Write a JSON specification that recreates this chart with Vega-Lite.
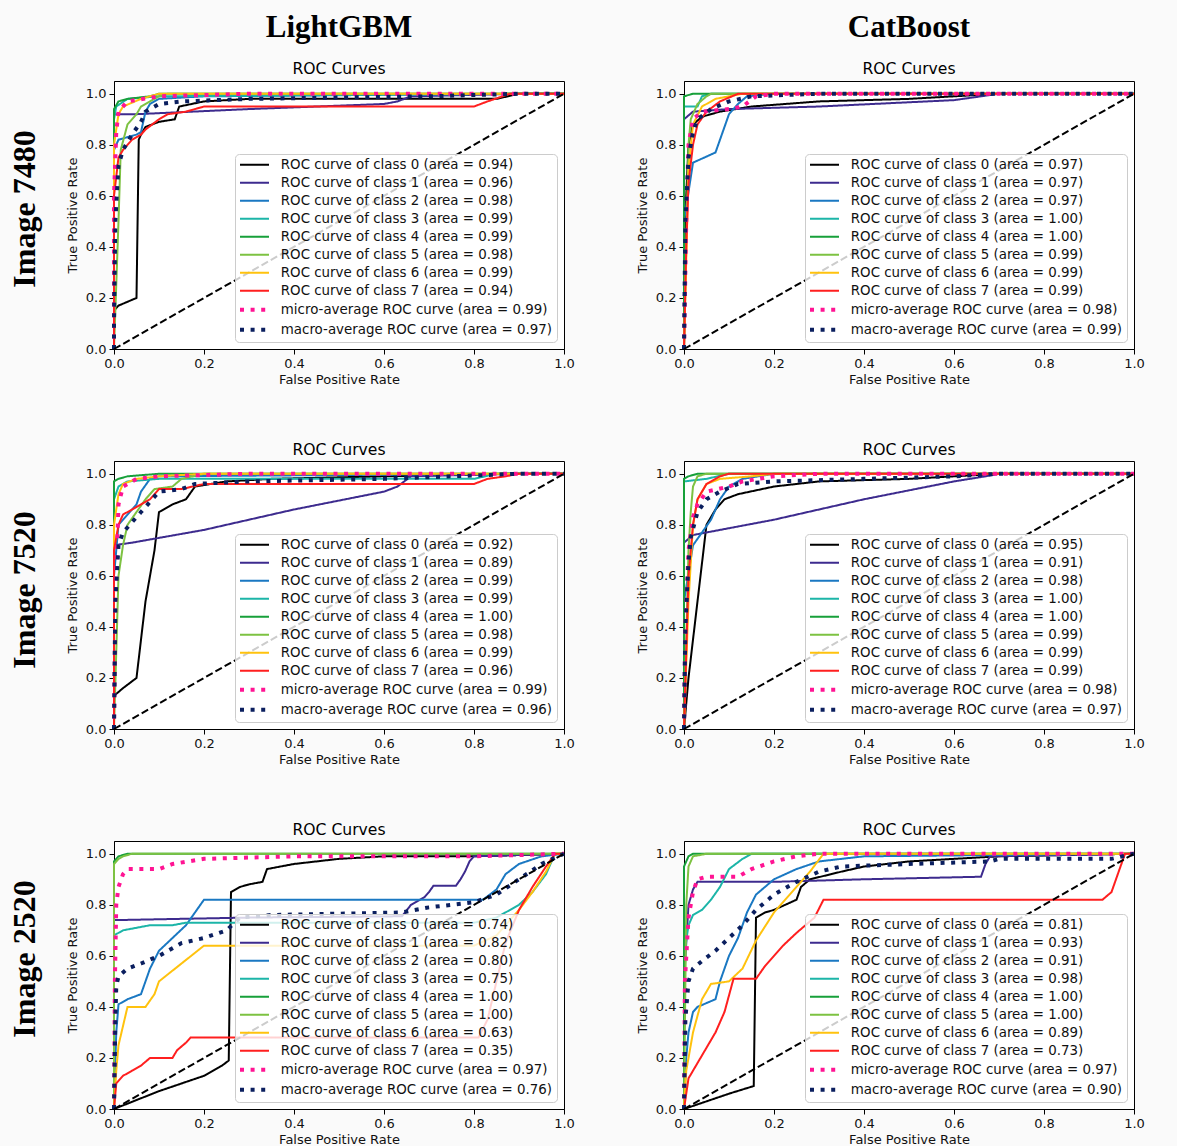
{
"$schema": "https://vega.github.io/schema/vega-lite/v6.json",
"background": "#fafafa",
"padding": {"left": 5, "top": 11, "right": 34, "bottom": 1},
"config": {
 "view": {"stroke": "black", "strokeWidth": 1, "fill": "white"},
 "axis": {"grid": false, "labelFlush": false, "domainColor": "black", "domainWidth": 1, "tickColor": "black", "tickSize": 5, "tickWidth": 1, "labelFont": "DejaVu Sans", "labelFontSize": 13, "labelColor": "#111", "labelPadding": 3, "titleFont": "DejaVu Sans", "titleFontSize": 13, "titleFontWeight": "normal", "titleColor": "#111"},
 "axisX": {"titlePadding": 3},
 "axisY": {"titlePadding": 6},
 "legend": {"orient": "bottom-right", "offset": 7, "labelFont": "DejaVu Sans", "labelFontSize": 13.4, "labelColor": "#111", "labelLimit": 500, "symbolSize": 64, "symbolStrokeWidth": 2, "labelOffset": 19.6, "symbolOffset": 8.8, "padding": 4, "rowPadding": 3, "fillColor": "rgba(255,255,255,0.8)", "strokeColor": "#cccccc", "cornerRadius": 4},
 "title": {"font": "DejaVu Sans", "fontSize": 15.6, "fontWeight": "normal", "color": "black", "offset": 2, "anchor": "middle"}
},
"datasets": {
 "lab1": [{"c":0,"s":"ROC curve of class 0 (area = 0.94)"},{"c":1,"s":"ROC curve of class 1 (area = 0.96)"},{"c":2,"s":"ROC curve of class 2 (area = 0.98)"},{"c":3,"s":"ROC curve of class 3 (area = 0.99)"},{"c":4,"s":"ROC curve of class 4 (area = 0.99)"},{"c":5,"s":"ROC curve of class 5 (area = 0.98)"},{"c":6,"s":"ROC curve of class 6 (area = 0.99)"},{"c":7,"s":"ROC curve of class 7 (area = 0.94)"},{"c":8,"s":"micro-average ROC curve (area = 0.99)"},{"c":9,"s":"macro-average ROC curve (area = 0.97)"}],
 "lab2": [{"c":0,"s":"ROC curve of class 0 (area = 0.97)"},{"c":1,"s":"ROC curve of class 1 (area = 0.97)"},{"c":2,"s":"ROC curve of class 2 (area = 0.97)"},{"c":3,"s":"ROC curve of class 3 (area = 1.00)"},{"c":4,"s":"ROC curve of class 4 (area = 1.00)"},{"c":5,"s":"ROC curve of class 5 (area = 0.99)"},{"c":6,"s":"ROC curve of class 6 (area = 0.99)"},{"c":7,"s":"ROC curve of class 7 (area = 0.99)"},{"c":8,"s":"micro-average ROC curve (area = 0.98)"},{"c":9,"s":"macro-average ROC curve (area = 0.99)"}],
 "lab3": [{"c":0,"s":"ROC curve of class 0 (area = 0.92)"},{"c":1,"s":"ROC curve of class 1 (area = 0.89)"},{"c":2,"s":"ROC curve of class 2 (area = 0.99)"},{"c":3,"s":"ROC curve of class 3 (area = 0.99)"},{"c":4,"s":"ROC curve of class 4 (area = 1.00)"},{"c":5,"s":"ROC curve of class 5 (area = 0.98)"},{"c":6,"s":"ROC curve of class 6 (area = 0.99)"},{"c":7,"s":"ROC curve of class 7 (area = 0.96)"},{"c":8,"s":"micro-average ROC curve (area = 0.99)"},{"c":9,"s":"macro-average ROC curve (area = 0.96)"}],
 "lab4": [{"c":0,"s":"ROC curve of class 0 (area = 0.95)"},{"c":1,"s":"ROC curve of class 1 (area = 0.91)"},{"c":2,"s":"ROC curve of class 2 (area = 0.98)"},{"c":3,"s":"ROC curve of class 3 (area = 1.00)"},{"c":4,"s":"ROC curve of class 4 (area = 1.00)"},{"c":5,"s":"ROC curve of class 5 (area = 0.99)"},{"c":6,"s":"ROC curve of class 6 (area = 0.99)"},{"c":7,"s":"ROC curve of class 7 (area = 0.99)"},{"c":8,"s":"micro-average ROC curve (area = 0.98)"},{"c":9,"s":"macro-average ROC curve (area = 0.97)"}],
 "lab5": [{"c":0,"s":"ROC curve of class 0 (area = 0.74)"},{"c":1,"s":"ROC curve of class 1 (area = 0.82)"},{"c":2,"s":"ROC curve of class 2 (area = 0.80)"},{"c":3,"s":"ROC curve of class 3 (area = 0.75)"},{"c":4,"s":"ROC curve of class 4 (area = 1.00)"},{"c":5,"s":"ROC curve of class 5 (area = 1.00)"},{"c":6,"s":"ROC curve of class 6 (area = 0.63)"},{"c":7,"s":"ROC curve of class 7 (area = 0.35)"},{"c":8,"s":"micro-average ROC curve (area = 0.97)"},{"c":9,"s":"macro-average ROC curve (area = 0.76)"}],
 "lab6": [{"c":0,"s":"ROC curve of class 0 (area = 0.81)"},{"c":1,"s":"ROC curve of class 1 (area = 0.93)"},{"c":2,"s":"ROC curve of class 2 (area = 0.91)"},{"c":3,"s":"ROC curve of class 3 (area = 0.98)"},{"c":4,"s":"ROC curve of class 4 (area = 1.00)"},{"c":5,"s":"ROC curve of class 5 (area = 1.00)"},{"c":6,"s":"ROC curve of class 6 (area = 0.89)"},{"c":7,"s":"ROC curve of class 7 (area = 0.73)"},{"c":8,"s":"micro-average ROC curve (area = 0.97)"},{"c":9,"s":"macro-average ROC curve (area = 0.90)"}],
 "p1": [
  {"c":0,"x":0,"y":0},{"c":0,"x":0,"y":0.15},{"c":0,"x":0.01,"y":0.17},{"c":0,"x":0.05,"y":0.2},{"c":0,"x":0.055,"y":0.82},{"c":0,"x":0.06,"y":0.84},{"c":0,"x":0.07,"y":0.87},{"c":0,"x":0.1,"y":0.89},{"c":0,"x":0.135,"y":0.9},{"c":0,"x":0.145,"y":0.95},{"c":0,"x":0.2,"y":0.97},{"c":0,"x":0.3,"y":0.98},{"c":0,"x":0.85,"y":0.98},{"c":0,"x":0.9,"y":1},{"c":0,"x":1,"y":1},
  {"c":1,"x":0,"y":0},{"c":1,"x":0,"y":0.92},{"c":1,"x":0.05,"y":0.92},{"c":1,"x":0.3,"y":0.94},{"c":1,"x":0.6,"y":0.96},{"c":1,"x":0.63,"y":0.97},{"c":1,"x":0.66,"y":0.99},{"c":1,"x":0.9,"y":1},{"c":1,"x":1,"y":1},
  {"c":2,"x":0,"y":0},{"c":2,"x":0,"y":0.78},{"c":2,"x":0.01,"y":0.82},{"c":2,"x":0.05,"y":0.84},{"c":2,"x":0.06,"y":0.85},{"c":2,"x":0.07,"y":0.93},{"c":2,"x":0.08,"y":0.96},{"c":2,"x":0.1,"y":0.98},{"c":2,"x":0.2,"y":0.99},{"c":2,"x":0.9,"y":1},{"c":2,"x":1,"y":1},
  {"c":3,"x":0,"y":0},{"c":3,"x":0,"y":0.9},{"c":3,"x":0.005,"y":0.95},{"c":3,"x":0.03,"y":0.98},{"c":3,"x":0.1,"y":0.99},{"c":3,"x":0.9,"y":1},{"c":3,"x":1,"y":1},
  {"c":4,"x":0,"y":0},{"c":4,"x":0,"y":0.94},{"c":4,"x":0.01,"y":0.97},{"c":4,"x":0.03,"y":0.98},{"c":4,"x":0.08,"y":0.99},{"c":4,"x":0.1,"y":1},{"c":4,"x":1,"y":1},
  {"c":5,"x":0,"y":0},{"c":5,"x":0.01,"y":0.5},{"c":5,"x":0.015,"y":0.78},{"c":5,"x":0.03,"y":0.88},{"c":5,"x":0.05,"y":0.92},{"c":5,"x":0.06,"y":0.95},{"c":5,"x":0.08,"y":0.97},{"c":5,"x":0.1,"y":0.99},{"c":5,"x":0.12,"y":1},{"c":5,"x":1,"y":1},
  {"c":6,"x":0,"y":0},{"c":6,"x":0,"y":0.8},{"c":6,"x":0.01,"y":0.92},{"c":6,"x":0.02,"y":0.95},{"c":6,"x":0.06,"y":0.98},{"c":6,"x":0.1,"y":1},{"c":6,"x":1,"y":1},
  {"c":7,"x":0,"y":0},{"c":7,"x":0,"y":0.6},{"c":7,"x":0.01,"y":0.75},{"c":7,"x":0.02,"y":0.78},{"c":7,"x":0.04,"y":0.82},{"c":7,"x":0.06,"y":0.84},{"c":7,"x":0.07,"y":0.86},{"c":7,"x":0.1,"y":0.9},{"c":7,"x":0.12,"y":0.92},{"c":7,"x":0.16,"y":0.93},{"c":7,"x":0.18,"y":0.94},{"c":7,"x":0.2,"y":0.95},{"c":7,"x":0.8,"y":0.95},{"c":7,"x":0.83,"y":0.97},{"c":7,"x":0.88,"y":1},{"c":7,"x":1,"y":1},
  {"c":8,"x":0,"y":0},{"c":8,"x":0,"y":0.6},{"c":8,"x":0.005,"y":0.85},{"c":8,"x":0.01,"y":0.93},{"c":8,"x":0.03,"y":0.97},{"c":8,"x":0.1,"y":0.99},{"c":8,"x":0.3,"y":1},{"c":8,"x":1,"y":1},
  {"c":9,"x":0,"y":0},{"c":9,"x":0,"y":0.1},{"c":9,"x":0.003,"y":0.5},{"c":9,"x":0.01,"y":0.72},{"c":9,"x":0.02,"y":0.78},{"c":9,"x":0.04,"y":0.84},{"c":9,"x":0.06,"y":0.89},{"c":9,"x":0.07,"y":0.93},{"c":9,"x":0.1,"y":0.96},{"c":9,"x":0.15,"y":0.97},{"c":9,"x":0.3,"y":0.98},{"c":9,"x":0.7,"y":0.99},{"c":9,"x":0.9,"y":1},{"c":9,"x":1,"y":1}
 ],
 "p2": [
  {"c":0,"x":0,"y":0},{"c":0,"x":0.005,"y":0.6},{"c":0,"x":0.01,"y":0.8},{"c":0,"x":0.02,"y":0.88},{"c":0,"x":0.04,"y":0.91},{"c":0,"x":0.08,"y":0.93},{"c":0,"x":0.15,"y":0.95},{"c":0,"x":0.3,"y":0.97},{"c":0,"x":0.5,"y":0.98},{"c":0,"x":0.7,"y":1},{"c":0,"x":1,"y":1},
  {"c":1,"x":0,"y":0},{"c":1,"x":0,"y":0.9},{"c":1,"x":0.02,"y":0.93},{"c":1,"x":0.1,"y":0.94},{"c":1,"x":0.3,"y":0.95},{"c":1,"x":0.6,"y":0.975},{"c":1,"x":0.66,"y":0.99},{"c":1,"x":0.7,"y":1},{"c":1,"x":1,"y":1},
  {"c":2,"x":0,"y":0},{"c":2,"x":0,"y":0.5},{"c":2,"x":0.02,"y":0.73},{"c":2,"x":0.07,"y":0.77},{"c":2,"x":0.09,"y":0.87},{"c":2,"x":0.1,"y":0.92},{"c":2,"x":0.12,"y":0.96},{"c":2,"x":0.14,"y":0.99},{"c":2,"x":0.2,"y":1},{"c":2,"x":1,"y":1},
  {"c":3,"x":0,"y":0},{"c":3,"x":0,"y":0.95},{"c":3,"x":0.03,"y":0.95},{"c":3,"x":0.04,"y":0.99},{"c":3,"x":0.06,"y":1},{"c":3,"x":1,"y":1},
  {"c":4,"x":0,"y":0},{"c":4,"x":0,"y":0.99},{"c":4,"x":0.02,"y":1},{"c":4,"x":1,"y":1},
  {"c":5,"x":0,"y":0},{"c":5,"x":0.01,"y":0.8},{"c":5,"x":0.015,"y":0.9},{"c":5,"x":0.03,"y":0.96},{"c":5,"x":0.05,"y":0.99},{"c":5,"x":0.06,"y":1},{"c":5,"x":1,"y":1},
  {"c":6,"x":0,"y":0},{"c":6,"x":0.01,"y":0.7},{"c":6,"x":0.02,"y":0.88},{"c":6,"x":0.04,"y":0.95},{"c":6,"x":0.07,"y":0.98},{"c":6,"x":0.1,"y":0.99},{"c":6,"x":0.13,"y":1},{"c":6,"x":1,"y":1},
  {"c":7,"x":0,"y":0},{"c":7,"x":0.005,"y":0.4},{"c":7,"x":0.01,"y":0.65},{"c":7,"x":0.02,"y":0.8},{"c":7,"x":0.03,"y":0.88},{"c":7,"x":0.05,"y":0.93},{"c":7,"x":0.08,"y":0.97},{"c":7,"x":0.12,"y":1},{"c":7,"x":1,"y":1},
  {"c":8,"x":0,"y":0},{"c":8,"x":0.005,"y":0.5},{"c":8,"x":0.01,"y":0.8},{"c":8,"x":0.02,"y":0.9},{"c":8,"x":0.04,"y":0.93},{"c":8,"x":0.1,"y":0.94},{"c":8,"x":0.13,"y":0.95},{"c":8,"x":0.16,"y":0.99},{"c":8,"x":0.2,"y":1},{"c":8,"x":1,"y":1},
  {"c":9,"x":0,"y":0},{"c":9,"x":0.003,"y":0.5},{"c":9,"x":0.01,"y":0.75},{"c":9,"x":0.02,"y":0.85},{"c":9,"x":0.03,"y":0.9},{"c":9,"x":0.06,"y":0.94},{"c":9,"x":0.1,"y":0.97},{"c":9,"x":0.15,"y":0.99},{"c":9,"x":0.3,"y":1},{"c":9,"x":1,"y":1}
 ],
 "p3": [
  {"c":0,"x":0,"y":0},{"c":0,"x":0,"y":0.13},{"c":0,"x":0.02,"y":0.16},{"c":0,"x":0.05,"y":0.2},{"c":0,"x":0.07,"y":0.5},{"c":0,"x":0.09,"y":0.7},{"c":0,"x":0.1,"y":0.85},{"c":0,"x":0.13,"y":0.88},{"c":0,"x":0.16,"y":0.9},{"c":0,"x":0.18,"y":0.95},{"c":0,"x":0.25,"y":0.97},{"c":0,"x":0.35,"y":0.98},{"c":0,"x":0.6,"y":0.99},{"c":0,"x":0.87,"y":1},{"c":0,"x":1,"y":1},
  {"c":1,"x":0,"y":0},{"c":1,"x":0,"y":0.72},{"c":1,"x":0.04,"y":0.73},{"c":1,"x":0.2,"y":0.78},{"c":1,"x":0.4,"y":0.86},{"c":1,"x":0.6,"y":0.93},{"c":1,"x":0.63,"y":0.95},{"c":1,"x":0.66,"y":0.99},{"c":1,"x":0.9,"y":1},{"c":1,"x":1,"y":1},
  {"c":2,"x":0,"y":0},{"c":2,"x":0,"y":0.6},{"c":2,"x":0.01,"y":0.8},{"c":2,"x":0.03,"y":0.84},{"c":2,"x":0.05,"y":0.88},{"c":2,"x":0.06,"y":0.93},{"c":2,"x":0.08,"y":0.98},{"c":2,"x":0.1,"y":0.99},{"c":2,"x":0.9,"y":1},{"c":2,"x":1,"y":1},
  {"c":3,"x":0,"y":0},{"c":3,"x":0,"y":0.9},{"c":3,"x":0.01,"y":0.95},{"c":3,"x":0.03,"y":0.97},{"c":3,"x":0.1,"y":0.98},{"c":3,"x":0.8,"y":0.98},{"c":3,"x":0.85,"y":1},{"c":3,"x":1,"y":1},
  {"c":4,"x":0,"y":0},{"c":4,"x":0,"y":0.97},{"c":4,"x":0.01,"y":0.98},{"c":4,"x":0.03,"y":0.99},{"c":4,"x":0.1,"y":1},{"c":4,"x":1,"y":1},
  {"c":5,"x":0,"y":0},{"c":5,"x":0.01,"y":0.6},{"c":5,"x":0.02,"y":0.72},{"c":5,"x":0.03,"y":0.8},{"c":5,"x":0.05,"y":0.85},{"c":5,"x":0.07,"y":0.9},{"c":5,"x":0.09,"y":0.94},{"c":5,"x":0.13,"y":0.95},{"c":5,"x":0.15,"y":0.98},{"c":5,"x":0.2,"y":1},{"c":5,"x":1,"y":1},
  {"c":6,"x":0,"y":0},{"c":6,"x":0,"y":0.8},{"c":6,"x":0.01,"y":0.92},{"c":6,"x":0.02,"y":0.96},{"c":6,"x":0.05,"y":0.98},{"c":6,"x":0.1,"y":0.99},{"c":6,"x":0.2,"y":1},{"c":6,"x":1,"y":1},
  {"c":7,"x":0,"y":0},{"c":7,"x":0,"y":0.7},{"c":7,"x":0.01,"y":0.8},{"c":7,"x":0.02,"y":0.84},{"c":7,"x":0.05,"y":0.87},{"c":7,"x":0.08,"y":0.9},{"c":7,"x":0.1,"y":0.94},{"c":7,"x":0.15,"y":0.94},{"c":7,"x":0.2,"y":0.96},{"c":7,"x":0.8,"y":0.96},{"c":7,"x":0.83,"y":0.98},{"c":7,"x":0.87,"y":0.99},{"c":7,"x":0.9,"y":1},{"c":7,"x":1,"y":1},
  {"c":8,"x":0,"y":0},{"c":8,"x":0.003,"y":0.5},{"c":8,"x":0.01,"y":0.88},{"c":8,"x":0.02,"y":0.95},{"c":8,"x":0.05,"y":0.98},{"c":8,"x":0.1,"y":0.99},{"c":8,"x":0.3,"y":1},{"c":8,"x":1,"y":1},
  {"c":9,"x":0,"y":0},{"c":9,"x":0.003,"y":0.5},{"c":9,"x":0.01,"y":0.72},{"c":9,"x":0.02,"y":0.77},{"c":9,"x":0.04,"y":0.81},{"c":9,"x":0.06,"y":0.85},{"c":9,"x":0.08,"y":0.89},{"c":9,"x":0.1,"y":0.93},{"c":9,"x":0.15,"y":0.94},{"c":9,"x":0.18,"y":0.96},{"c":9,"x":0.3,"y":0.97},{"c":9,"x":0.6,"y":0.98},{"c":9,"x":0.9,"y":1},{"c":9,"x":1,"y":1}
 ],
 "p4": [
  {"c":0,"x":0,"y":0},{"c":0,"x":0.01,"y":0.2},{"c":0,"x":0.03,"y":0.5},{"c":0,"x":0.05,"y":0.8},{"c":0,"x":0.07,"y":0.86},{"c":0,"x":0.09,"y":0.9},{"c":0,"x":0.12,"y":0.92},{"c":0,"x":0.2,"y":0.95},{"c":0,"x":0.3,"y":0.97},{"c":0,"x":0.5,"y":0.98},{"c":0,"x":0.7,"y":1},{"c":0,"x":1,"y":1},
  {"c":1,"x":0,"y":0},{"c":1,"x":0,"y":0.73},{"c":1,"x":0.02,"y":0.76},{"c":1,"x":0.2,"y":0.82},{"c":1,"x":0.4,"y":0.9},{"c":1,"x":0.6,"y":0.97},{"c":1,"x":0.67,"y":0.99},{"c":1,"x":0.7,"y":1},{"c":1,"x":1,"y":1},
  {"c":2,"x":0,"y":0},{"c":2,"x":0,"y":0.5},{"c":2,"x":0.02,"y":0.72},{"c":2,"x":0.04,"y":0.77},{"c":2,"x":0.06,"y":0.82},{"c":2,"x":0.08,"y":0.9},{"c":2,"x":0.1,"y":0.95},{"c":2,"x":0.13,"y":0.98},{"c":2,"x":0.2,"y":1},{"c":2,"x":1,"y":1},
  {"c":3,"x":0,"y":0},{"c":3,"x":0,"y":0.97},{"c":3,"x":0.05,"y":0.98},{"c":3,"x":0.1,"y":1},{"c":3,"x":1,"y":1},
  {"c":4,"x":0,"y":0},{"c":4,"x":0,"y":0.98},{"c":4,"x":0.01,"y":0.99},{"c":4,"x":0.03,"y":1},{"c":4,"x":1,"y":1},
  {"c":5,"x":0,"y":0},{"c":5,"x":0.01,"y":0.7},{"c":5,"x":0.015,"y":0.85},{"c":5,"x":0.02,"y":0.95},{"c":5,"x":0.03,"y":0.99},{"c":5,"x":0.05,"y":1},{"c":5,"x":1,"y":1},
  {"c":6,"x":0,"y":0},{"c":6,"x":0.01,"y":0.5},{"c":6,"x":0.02,"y":0.8},{"c":6,"x":0.03,"y":0.9},{"c":6,"x":0.05,"y":0.96},{"c":6,"x":0.08,"y":0.98},{"c":6,"x":0.15,"y":0.99},{"c":6,"x":0.2,"y":1},{"c":6,"x":1,"y":1},
  {"c":7,"x":0,"y":0},{"c":7,"x":0.005,"y":0.3},{"c":7,"x":0.01,"y":0.6},{"c":7,"x":0.02,"y":0.8},{"c":7,"x":0.03,"y":0.9},{"c":7,"x":0.05,"y":0.96},{"c":7,"x":0.08,"y":0.99},{"c":7,"x":0.1,"y":1},{"c":7,"x":1,"y":1},
  {"c":8,"x":0,"y":0},{"c":8,"x":0.003,"y":0.4},{"c":8,"x":0.01,"y":0.7},{"c":8,"x":0.02,"y":0.83},{"c":8,"x":0.03,"y":0.88},{"c":8,"x":0.05,"y":0.93},{"c":8,"x":0.1,"y":0.95},{"c":8,"x":0.13,"y":0.97},{"c":8,"x":0.2,"y":0.99},{"c":8,"x":0.3,"y":1},{"c":8,"x":1,"y":1},
  {"c":9,"x":0,"y":0},{"c":9,"x":0.003,"y":0.4},{"c":9,"x":0.01,"y":0.65},{"c":9,"x":0.015,"y":0.75},{"c":9,"x":0.03,"y":0.85},{"c":9,"x":0.05,"y":0.9},{"c":9,"x":0.08,"y":0.93},{"c":9,"x":0.12,"y":0.96},{"c":9,"x":0.2,"y":0.97},{"c":9,"x":0.4,"y":0.98},{"c":9,"x":0.6,"y":0.99},{"c":9,"x":0.7,"y":1},{"c":9,"x":1,"y":1}
 ],
 "p5": [
  {"c":0,"x":0,"y":0},{"c":0,"x":0.1,"y":0.07},{"c":0,"x":0.15,"y":0.1},{"c":0,"x":0.2,"y":0.13},{"c":0,"x":0.24,"y":0.17},{"c":0,"x":0.255,"y":0.19},{"c":0,"x":0.26,"y":0.85},{"c":0,"x":0.28,"y":0.87},{"c":0,"x":0.3,"y":0.88},{"c":0,"x":0.33,"y":0.89},{"c":0,"x":0.34,"y":0.94},{"c":0,"x":0.4,"y":0.96},{"c":0,"x":0.5,"y":0.98},{"c":0,"x":0.6,"y":0.99},{"c":0,"x":0.8,"y":0.99},{"c":0,"x":1,"y":1},
  {"c":1,"x":0,"y":0},{"c":1,"x":0,"y":0.74},{"c":1,"x":0.3,"y":0.75},{"c":1,"x":0.64,"y":0.755},{"c":1,"x":0.66,"y":0.8},{"c":1,"x":0.69,"y":0.83},{"c":1,"x":0.7,"y":0.85},{"c":1,"x":0.71,"y":0.875},{"c":1,"x":0.76,"y":0.875},{"c":1,"x":0.77,"y":0.9},{"c":1,"x":0.78,"y":0.93},{"c":1,"x":0.79,"y":0.97},{"c":1,"x":0.8,"y":0.99},{"c":1,"x":1,"y":1},
  {"c":2,"x":0,"y":0},{"c":2,"x":0.005,"y":0.3},{"c":2,"x":0.01,"y":0.41},{"c":2,"x":0.03,"y":0.43},{"c":2,"x":0.06,"y":0.45},{"c":2,"x":0.08,"y":0.55},{"c":2,"x":0.1,"y":0.62},{"c":2,"x":0.13,"y":0.67},{"c":2,"x":0.16,"y":0.72},{"c":2,"x":0.2,"y":0.82},{"c":2,"x":0.82,"y":0.82},{"c":2,"x":0.85,"y":0.86},{"c":2,"x":0.87,"y":0.92},{"c":2,"x":0.9,"y":0.96},{"c":2,"x":0.95,"y":0.99},{"c":2,"x":1,"y":1},
  {"c":3,"x":0,"y":0},{"c":3,"x":0,"y":0.68},{"c":3,"x":0.02,"y":0.7},{"c":3,"x":0.08,"y":0.72},{"c":3,"x":0.13,"y":0.72},{"c":3,"x":0.16,"y":0.73},{"c":3,"x":0.8,"y":0.73},{"c":3,"x":0.85,"y":0.75},{"c":3,"x":0.9,"y":0.8},{"c":3,"x":0.93,"y":0.85},{"c":3,"x":0.96,"y":0.92},{"c":3,"x":0.98,"y":1},{"c":3,"x":1,"y":1},
  {"c":4,"x":0,"y":0},{"c":4,"x":0,"y":0.97},{"c":4,"x":0.01,"y":0.99},{"c":4,"x":0.03,"y":1},{"c":4,"x":1,"y":1},
  {"c":5,"x":0,"y":0},{"c":5,"x":0,"y":0.96},{"c":5,"x":0.01,"y":0.98},{"c":5,"x":0.02,"y":0.99},{"c":5,"x":0.04,"y":1},{"c":5,"x":1,"y":1},
  {"c":6,"x":0,"y":0},{"c":6,"x":0.005,"y":0.15},{"c":6,"x":0.01,"y":0.25},{"c":6,"x":0.03,"y":0.4},{"c":6,"x":0.07,"y":0.4},{"c":6,"x":0.09,"y":0.45},{"c":6,"x":0.1,"y":0.5},{"c":6,"x":0.15,"y":0.57},{"c":6,"x":0.2,"y":0.64},{"c":6,"x":0.8,"y":0.64},{"c":6,"x":0.85,"y":0.68},{"c":6,"x":0.9,"y":0.78},{"c":6,"x":0.93,"y":0.85},{"c":6,"x":0.96,"y":0.93},{"c":6,"x":0.98,"y":1},{"c":6,"x":1,"y":1},
  {"c":7,"x":0,"y":0},{"c":7,"x":0.005,"y":0.1},{"c":7,"x":0.02,"y":0.13},{"c":7,"x":0.04,"y":0.15},{"c":7,"x":0.06,"y":0.17},{"c":7,"x":0.08,"y":0.2},{"c":7,"x":0.13,"y":0.2},{"c":7,"x":0.14,"y":0.23},{"c":7,"x":0.16,"y":0.26},{"c":7,"x":0.17,"y":0.28},{"c":7,"x":0.81,"y":0.28},{"c":7,"x":0.83,"y":0.35},{"c":7,"x":0.85,"y":0.5},{"c":7,"x":0.87,"y":0.65},{"c":7,"x":0.9,"y":0.78},{"c":7,"x":0.93,"y":0.87},{"c":7,"x":0.96,"y":0.95},{"c":7,"x":0.98,"y":1},{"c":7,"x":1,"y":1},
  {"c":8,"x":0,"y":0},{"c":8,"x":0.002,"y":0.5},{"c":8,"x":0.005,"y":0.8},{"c":8,"x":0.01,"y":0.87},{"c":8,"x":0.02,"y":0.92},{"c":8,"x":0.03,"y":0.94},{"c":8,"x":0.1,"y":0.94},{"c":8,"x":0.13,"y":0.96},{"c":8,"x":0.2,"y":0.98},{"c":8,"x":0.4,"y":0.99},{"c":8,"x":0.8,"y":0.99},{"c":8,"x":1,"y":1},
  {"c":9,"x":0,"y":0},{"c":9,"x":0.003,"y":0.35},{"c":9,"x":0.005,"y":0.48},{"c":9,"x":0.01,"y":0.52},{"c":9,"x":0.03,"y":0.55},{"c":9,"x":0.06,"y":0.57},{"c":9,"x":0.1,"y":0.6},{"c":9,"x":0.15,"y":0.65},{"c":9,"x":0.2,"y":0.67},{"c":9,"x":0.25,"y":0.7},{"c":9,"x":0.28,"y":0.75},{"c":9,"x":0.35,"y":0.76},{"c":9,"x":0.64,"y":0.77},{"c":9,"x":0.7,"y":0.79},{"c":9,"x":0.75,"y":0.8},{"c":9,"x":0.8,"y":0.81},{"c":9,"x":0.85,"y":0.84},{"c":9,"x":0.9,"y":0.9},{"c":9,"x":0.95,"y":0.96},{"c":9,"x":1,"y":1}
 ],
 "p6": [
  {"c":0,"x":0,"y":0},{"c":0,"x":0.05,"y":0.03},{"c":0,"x":0.1,"y":0.06},{"c":0,"x":0.155,"y":0.09},{"c":0,"x":0.16,"y":0.75},{"c":0,"x":0.18,"y":0.77},{"c":0,"x":0.2,"y":0.78},{"c":0,"x":0.25,"y":0.82},{"c":0,"x":0.26,"y":0.87},{"c":0,"x":0.28,"y":0.9},{"c":0,"x":0.35,"y":0.93},{"c":0,"x":0.4,"y":0.95},{"c":0,"x":0.5,"y":0.97},{"c":0,"x":0.6,"y":0.98},{"c":0,"x":0.7,"y":0.99},{"c":0,"x":1,"y":1},
  {"c":1,"x":0,"y":0},{"c":1,"x":0,"y":0.5},{"c":1,"x":0.01,"y":0.8},{"c":1,"x":0.02,"y":0.86},{"c":1,"x":0.03,"y":0.89},{"c":1,"x":0.2,"y":0.89},{"c":1,"x":0.4,"y":0.9},{"c":1,"x":0.66,"y":0.91},{"c":1,"x":0.67,"y":0.96},{"c":1,"x":0.68,"y":0.99},{"c":1,"x":1,"y":1},
  {"c":2,"x":0,"y":0},{"c":2,"x":0.005,"y":0.2},{"c":2,"x":0.01,"y":0.3},{"c":2,"x":0.02,"y":0.38},{"c":2,"x":0.03,"y":0.4},{"c":2,"x":0.07,"y":0.43},{"c":2,"x":0.08,"y":0.5},{"c":2,"x":0.1,"y":0.6},{"c":2,"x":0.12,"y":0.67},{"c":2,"x":0.14,"y":0.77},{"c":2,"x":0.16,"y":0.84},{"c":2,"x":0.2,"y":0.9},{"c":2,"x":0.25,"y":0.94},{"c":2,"x":0.3,"y":0.97},{"c":2,"x":0.4,"y":0.99},{"c":2,"x":1,"y":1},
  {"c":3,"x":0,"y":0},{"c":3,"x":0,"y":0.6},{"c":3,"x":0.01,"y":0.72},{"c":3,"x":0.02,"y":0.76},{"c":3,"x":0.04,"y":0.78},{"c":3,"x":0.06,"y":0.82},{"c":3,"x":0.08,"y":0.87},{"c":3,"x":0.1,"y":0.94},{"c":3,"x":0.13,"y":0.98},{"c":3,"x":0.15,"y":1},{"c":3,"x":1,"y":1},
  {"c":4,"x":0,"y":0},{"c":4,"x":0,"y":0.95},{"c":4,"x":0.01,"y":0.99},{"c":4,"x":0.02,"y":1},{"c":4,"x":1,"y":1},
  {"c":5,"x":0,"y":0},{"c":5,"x":0.005,"y":0.8},{"c":5,"x":0.01,"y":0.95},{"c":5,"x":0.02,"y":0.99},{"c":5,"x":0.05,"y":1},{"c":5,"x":1,"y":1},
  {"c":6,"x":0,"y":0},{"c":6,"x":0.005,"y":0.15},{"c":6,"x":0.02,"y":0.3},{"c":6,"x":0.04,"y":0.43},{"c":6,"x":0.06,"y":0.49},{"c":6,"x":0.1,"y":0.5},{"c":6,"x":0.13,"y":0.55},{"c":6,"x":0.16,"y":0.66},{"c":6,"x":0.2,"y":0.77},{"c":6,"x":0.25,"y":0.87},{"c":6,"x":0.28,"y":0.93},{"c":6,"x":0.31,"y":1},{"c":6,"x":1,"y":1},
  {"c":7,"x":0,"y":0},{"c":7,"x":0.01,"y":0.12},{"c":7,"x":0.03,"y":0.18},{"c":7,"x":0.05,"y":0.24},{"c":7,"x":0.07,"y":0.3},{"c":7,"x":0.09,"y":0.38},{"c":7,"x":0.11,"y":0.51},{"c":7,"x":0.16,"y":0.51},{"c":7,"x":0.18,"y":0.56},{"c":7,"x":0.2,"y":0.6},{"c":7,"x":0.22,"y":0.64},{"c":7,"x":0.25,"y":0.69},{"c":7,"x":0.29,"y":0.75},{"c":7,"x":0.31,"y":0.82},{"c":7,"x":0.93,"y":0.82},{"c":7,"x":0.95,"y":0.85},{"c":7,"x":0.97,"y":0.95},{"c":7,"x":0.98,"y":1},{"c":7,"x":1,"y":1},
  {"c":8,"x":0,"y":0},{"c":8,"x":0.002,"y":0.5},{"c":8,"x":0.01,"y":0.75},{"c":8,"x":0.02,"y":0.85},{"c":8,"x":0.03,"y":0.9},{"c":8,"x":0.05,"y":0.91},{"c":8,"x":0.12,"y":0.91},{"c":8,"x":0.15,"y":0.94},{"c":8,"x":0.2,"y":0.97},{"c":8,"x":0.25,"y":0.99},{"c":8,"x":0.3,"y":1},{"c":8,"x":1,"y":1},
  {"c":9,"x":0,"y":0},{"c":9,"x":0.003,"y":0.35},{"c":9,"x":0.01,"y":0.5},{"c":9,"x":0.02,"y":0.55},{"c":9,"x":0.04,"y":0.58},{"c":9,"x":0.07,"y":0.62},{"c":9,"x":0.1,"y":0.67},{"c":9,"x":0.13,"y":0.72},{"c":9,"x":0.16,"y":0.78},{"c":9,"x":0.2,"y":0.84},{"c":9,"x":0.25,"y":0.89},{"c":9,"x":0.3,"y":0.93},{"c":9,"x":0.35,"y":0.95},{"c":9,"x":0.5,"y":0.96},{"c":9,"x":0.68,"y":0.97},{"c":9,"x":0.7,"y":0.98},{"c":9,"x":0.95,"y":0.98},{"c":9,"x":1,"y":1}
 ],
 "rows": [{"t":"Image 7480"},{"t":"Image 7520"},{"t":"Image 2520"}]
},
"resolve": {"scale": {"color": "independent", "strokeDash": "independent"}, "legend": {"color": "independent", "strokeDash": "independent"}},
"hconcat": [
 {"vconcat": [
   {"width": 40, "height": 256, "view": {"stroke": null, "fill": null}, "data": {"name": "rows"}, "transform": [{"filter": "datum.t == 'Image 7480'"}], "mark": {"type": "text", "angle": 270, "font": "Liberation Serif", "fontSize": 32, "fontWeight": "bold", "align": "center", "baseline": "middle", "color": "black"}, "encoding": {"text": {"field": "t"}}},
   {"width": 40, "height": 506, "view": {"stroke": null, "fill": null}, "data": {"name": "rows"}, "transform": [{"filter": "datum.t == 'Image 7520'"}], "mark": {"type": "text", "angle": 270, "font": "Liberation Serif", "fontSize": 32, "fontWeight": "bold", "align": "center", "baseline": "middle", "color": "black"}, "encoding": {"text": {"field": "t"}}},
   {"width": 40, "height": 232, "view": {"stroke": null, "fill": null}, "data": {"name": "rows"}, "transform": [{"filter": "datum.t == 'Image 2520'"}], "mark": {"type": "text", "angle": 270, "font": "Liberation Serif", "fontSize": 32, "fontWeight": "bold", "align": "center", "baseline": "middle", "color": "black"}, "encoding": {"text": {"field": "t"}}}
  ], "spacing": 0},
 {"concat": [
  {"width": 450, "height": 268, "title": {"text": "LightGBM", "subtitle": "ROC Curves", "font": "Liberation Serif", "fontSize": 31, "fontWeight": "bold", "subtitleFont": "DejaVu Sans", "subtitleFontSize": 15.6, "subtitleColor": "black", "subtitlePadding": 18},
   "data": {"name": "p1"}, "transform": [{"lookup": "c", "from": {"data": {"name": "lab1"}, "key": "c", "fields": ["s"]}}],
   "layer": [
    {"mark": {"type": "line", "strokeCap": "butt"},
     "encoding": {
      "x": {"field": "x", "type": "quantitative", "scale": {"domain": [0, 1], "nice": false}, "axis": {"title": "False Positive Rate", "values": [0, 0.2, 0.4, 0.6, 0.8, 1], "format": ".1f"}},
      "y": {"field": "y", "type": "quantitative", "scale": {"domain": [0, 1.05], "nice": false}, "axis": {"title": "True Positive Rate", "values": [0, 0.2, 0.4, 0.6, 0.8, 1], "format": ".1f"}},
      "color": {"field": "s", "type": "nominal", "sort": {"field": "c", "op": "min"}, "scale": {"range": ["#000000", "#3d2b8e", "#1a78c2", "#1cb5a8", "#17a03a", "#7dc242", "#ffc20e", "#ff1f1f", "#ff1493", "#0b1f5f"]}, "legend": {"title": null, "symbolType": "M-3.625,0L3.625,0", "symbolSize": 64, "encode": {"symbols": {"update": {"strokeWidth": {"signal": "datum.index >= 8 ? 4 : 2"}}}}}},
      "strokeDash": {"field": "s", "type": "nominal", "sort": {"field": "c", "op": "min"}, "scale": {"range": [[1, 0], [1, 0], [1, 0], [1, 0], [1, 0], [1, 0], [1, 0], [1, 0], [4, 6.6], [4, 6.6]]}, "legend": {"title": null, "symbolType": "M-3.625,0L3.625,0", "symbolSize": 64, "encode": {"symbols": {"update": {"strokeWidth": {"signal": "datum.index >= 8 ? 4 : 2"}}}}}},
      "strokeWidth": {"condition": {"test": "datum.c >= 8", "value": 4}, "value": 2}
     }},
    {"data": {"values": [{"x": 0, "y": 0, "x2": 1, "y2": 1}]}, "mark": {"type": "rule", "strokeDash": [7.4, 3.2], "strokeWidth": 2, "color": "black"},
     "encoding": {"x": {"field": "x", "type": "quantitative"}, "y": {"field": "y", "type": "quantitative"}, "x2": {"field": "x2"}, "y2": {"field": "y2"}}}
   ]},
  {"width": 450, "height": 268, "title": {"text": "CatBoost", "subtitle": "ROC Curves", "font": "Liberation Serif", "fontSize": 31, "fontWeight": "bold", "subtitleFont": "DejaVu Sans", "subtitleFontSize": 15.6, "subtitleColor": "black", "subtitlePadding": 18},
   "data": {"name": "p2"}, "transform": [{"lookup": "c", "from": {"data": {"name": "lab2"}, "key": "c", "fields": ["s"]}}],
   "layer": [
    {"mark": {"type": "line", "strokeCap": "butt"},
     "encoding": {
      "x": {"field": "x", "type": "quantitative", "scale": {"domain": [0, 1], "nice": false}, "axis": {"title": "False Positive Rate", "values": [0, 0.2, 0.4, 0.6, 0.8, 1], "format": ".1f"}},
      "y": {"field": "y", "type": "quantitative", "scale": {"domain": [0, 1.05], "nice": false}, "axis": {"title": "True Positive Rate", "values": [0, 0.2, 0.4, 0.6, 0.8, 1], "format": ".1f"}},
      "color": {"field": "s", "type": "nominal", "sort": {"field": "c", "op": "min"}, "scale": {"range": ["#000000", "#3d2b8e", "#1a78c2", "#1cb5a8", "#17a03a", "#7dc242", "#ffc20e", "#ff1f1f", "#ff1493", "#0b1f5f"]}, "legend": {"title": null, "symbolType": "M-3.625,0L3.625,0", "symbolSize": 64, "encode": {"symbols": {"update": {"strokeWidth": {"signal": "datum.index >= 8 ? 4 : 2"}}}}}},
      "strokeDash": {"field": "s", "type": "nominal", "sort": {"field": "c", "op": "min"}, "scale": {"range": [[1, 0], [1, 0], [1, 0], [1, 0], [1, 0], [1, 0], [1, 0], [1, 0], [4, 6.6], [4, 6.6]]}, "legend": {"title": null, "symbolType": "M-3.625,0L3.625,0", "symbolSize": 64, "encode": {"symbols": {"update": {"strokeWidth": {"signal": "datum.index >= 8 ? 4 : 2"}}}}}},
      "strokeWidth": {"condition": {"test": "datum.c >= 8", "value": 4}, "value": 2}
     }},
    {"data": {"values": [{"x": 0, "y": 0, "x2": 1, "y2": 1}]}, "mark": {"type": "rule", "strokeDash": [7.4, 3.2], "strokeWidth": 2, "color": "black"},
     "encoding": {"x": {"field": "x", "type": "quantitative"}, "y": {"field": "y", "type": "quantitative"}, "x2": {"field": "x2"}, "y2": {"field": "y2"}}}
   ]},
  {"width": 450, "height": 268, "title": "ROC Curves",
   "data": {"name": "p3"}, "transform": [{"lookup": "c", "from": {"data": {"name": "lab3"}, "key": "c", "fields": ["s"]}}],
   "layer": [
    {"mark": {"type": "line", "strokeCap": "butt"},
     "encoding": {
      "x": {"field": "x", "type": "quantitative", "scale": {"domain": [0, 1], "nice": false}, "axis": {"title": "False Positive Rate", "values": [0, 0.2, 0.4, 0.6, 0.8, 1], "format": ".1f"}},
      "y": {"field": "y", "type": "quantitative", "scale": {"domain": [0, 1.05], "nice": false}, "axis": {"title": "True Positive Rate", "values": [0, 0.2, 0.4, 0.6, 0.8, 1], "format": ".1f"}},
      "color": {"field": "s", "type": "nominal", "sort": {"field": "c", "op": "min"}, "scale": {"range": ["#000000", "#3d2b8e", "#1a78c2", "#1cb5a8", "#17a03a", "#7dc242", "#ffc20e", "#ff1f1f", "#ff1493", "#0b1f5f"]}, "legend": {"title": null, "symbolType": "M-3.625,0L3.625,0", "symbolSize": 64, "encode": {"symbols": {"update": {"strokeWidth": {"signal": "datum.index >= 8 ? 4 : 2"}}}}}},
      "strokeDash": {"field": "s", "type": "nominal", "sort": {"field": "c", "op": "min"}, "scale": {"range": [[1, 0], [1, 0], [1, 0], [1, 0], [1, 0], [1, 0], [1, 0], [1, 0], [4, 6.6], [4, 6.6]]}, "legend": {"title": null, "symbolType": "M-3.625,0L3.625,0", "symbolSize": 64, "encode": {"symbols": {"update": {"strokeWidth": {"signal": "datum.index >= 8 ? 4 : 2"}}}}}},
      "strokeWidth": {"condition": {"test": "datum.c >= 8", "value": 4}, "value": 2}
     }},
    {"data": {"values": [{"x": 0, "y": 0, "x2": 1, "y2": 1}]}, "mark": {"type": "rule", "strokeDash": [7.4, 3.2], "strokeWidth": 2, "color": "black"},
     "encoding": {"x": {"field": "x", "type": "quantitative"}, "y": {"field": "y", "type": "quantitative"}, "x2": {"field": "x2"}, "y2": {"field": "y2"}}}
   ]},
  {"width": 450, "height": 268, "title": "ROC Curves",
   "data": {"name": "p4"}, "transform": [{"lookup": "c", "from": {"data": {"name": "lab4"}, "key": "c", "fields": ["s"]}}],
   "layer": [
    {"mark": {"type": "line", "strokeCap": "butt"},
     "encoding": {
      "x": {"field": "x", "type": "quantitative", "scale": {"domain": [0, 1], "nice": false}, "axis": {"title": "False Positive Rate", "values": [0, 0.2, 0.4, 0.6, 0.8, 1], "format": ".1f"}},
      "y": {"field": "y", "type": "quantitative", "scale": {"domain": [0, 1.05], "nice": false}, "axis": {"title": "True Positive Rate", "values": [0, 0.2, 0.4, 0.6, 0.8, 1], "format": ".1f"}},
      "color": {"field": "s", "type": "nominal", "sort": {"field": "c", "op": "min"}, "scale": {"range": ["#000000", "#3d2b8e", "#1a78c2", "#1cb5a8", "#17a03a", "#7dc242", "#ffc20e", "#ff1f1f", "#ff1493", "#0b1f5f"]}, "legend": {"title": null, "symbolType": "M-3.625,0L3.625,0", "symbolSize": 64, "encode": {"symbols": {"update": {"strokeWidth": {"signal": "datum.index >= 8 ? 4 : 2"}}}}}},
      "strokeDash": {"field": "s", "type": "nominal", "sort": {"field": "c", "op": "min"}, "scale": {"range": [[1, 0], [1, 0], [1, 0], [1, 0], [1, 0], [1, 0], [1, 0], [1, 0], [4, 6.6], [4, 6.6]]}, "legend": {"title": null, "symbolType": "M-3.625,0L3.625,0", "symbolSize": 64, "encode": {"symbols": {"update": {"strokeWidth": {"signal": "datum.index >= 8 ? 4 : 2"}}}}}},
      "strokeWidth": {"condition": {"test": "datum.c >= 8", "value": 4}, "value": 2}
     }},
    {"data": {"values": [{"x": 0, "y": 0, "x2": 1, "y2": 1}]}, "mark": {"type": "rule", "strokeDash": [7.4, 3.2], "strokeWidth": 2, "color": "black"},
     "encoding": {"x": {"field": "x", "type": "quantitative"}, "y": {"field": "y", "type": "quantitative"}, "x2": {"field": "x2"}, "y2": {"field": "y2"}}}
   ]},
  {"width": 450, "height": 268, "title": "ROC Curves",
   "data": {"name": "p5"}, "transform": [{"lookup": "c", "from": {"data": {"name": "lab5"}, "key": "c", "fields": ["s"]}}],
   "layer": [
    {"mark": {"type": "line", "strokeCap": "butt"},
     "encoding": {
      "x": {"field": "x", "type": "quantitative", "scale": {"domain": [0, 1], "nice": false}, "axis": {"title": "False Positive Rate", "values": [0, 0.2, 0.4, 0.6, 0.8, 1], "format": ".1f"}},
      "y": {"field": "y", "type": "quantitative", "scale": {"domain": [0, 1.05], "nice": false}, "axis": {"title": "True Positive Rate", "values": [0, 0.2, 0.4, 0.6, 0.8, 1], "format": ".1f"}},
      "color": {"field": "s", "type": "nominal", "sort": {"field": "c", "op": "min"}, "scale": {"range": ["#000000", "#3d2b8e", "#1a78c2", "#1cb5a8", "#17a03a", "#7dc242", "#ffc20e", "#ff1f1f", "#ff1493", "#0b1f5f"]}, "legend": {"title": null, "symbolType": "M-3.625,0L3.625,0", "symbolSize": 64, "encode": {"symbols": {"update": {"strokeWidth": {"signal": "datum.index >= 8 ? 4 : 2"}}}}}},
      "strokeDash": {"field": "s", "type": "nominal", "sort": {"field": "c", "op": "min"}, "scale": {"range": [[1, 0], [1, 0], [1, 0], [1, 0], [1, 0], [1, 0], [1, 0], [1, 0], [4, 6.6], [4, 6.6]]}, "legend": {"title": null, "symbolType": "M-3.625,0L3.625,0", "symbolSize": 64, "encode": {"symbols": {"update": {"strokeWidth": {"signal": "datum.index >= 8 ? 4 : 2"}}}}}},
      "strokeWidth": {"condition": {"test": "datum.c >= 8", "value": 4}, "value": 2}
     }},
    {"data": {"values": [{"x": 0, "y": 0, "x2": 1, "y2": 1}]}, "mark": {"type": "rule", "strokeDash": [7.4, 3.2], "strokeWidth": 2, "color": "black"},
     "encoding": {"x": {"field": "x", "type": "quantitative"}, "y": {"field": "y", "type": "quantitative"}, "x2": {"field": "x2"}, "y2": {"field": "y2"}}}
   ]},
  {"width": 450, "height": 268, "title": "ROC Curves",
   "data": {"name": "p6"}, "transform": [{"lookup": "c", "from": {"data": {"name": "lab6"}, "key": "c", "fields": ["s"]}}],
   "layer": [
    {"mark": {"type": "line", "strokeCap": "butt"},
     "encoding": {
      "x": {"field": "x", "type": "quantitative", "scale": {"domain": [0, 1], "nice": false}, "axis": {"title": "False Positive Rate", "values": [0, 0.2, 0.4, 0.6, 0.8, 1], "format": ".1f"}},
      "y": {"field": "y", "type": "quantitative", "scale": {"domain": [0, 1.05], "nice": false}, "axis": {"title": "True Positive Rate", "values": [0, 0.2, 0.4, 0.6, 0.8, 1], "format": ".1f"}},
      "color": {"field": "s", "type": "nominal", "sort": {"field": "c", "op": "min"}, "scale": {"range": ["#000000", "#3d2b8e", "#1a78c2", "#1cb5a8", "#17a03a", "#7dc242", "#ffc20e", "#ff1f1f", "#ff1493", "#0b1f5f"]}, "legend": {"title": null, "symbolType": "M-3.625,0L3.625,0", "symbolSize": 64, "encode": {"symbols": {"update": {"strokeWidth": {"signal": "datum.index >= 8 ? 4 : 2"}}}}}},
      "strokeDash": {"field": "s", "type": "nominal", "sort": {"field": "c", "op": "min"}, "scale": {"range": [[1, 0], [1, 0], [1, 0], [1, 0], [1, 0], [1, 0], [1, 0], [1, 0], [4, 6.6], [4, 6.6]]}, "legend": {"title": null, "symbolType": "M-3.625,0L3.625,0", "symbolSize": 64, "encode": {"symbols": {"update": {"strokeWidth": {"signal": "datum.index >= 8 ? 4 : 2"}}}}}},
      "strokeWidth": {"condition": {"test": "datum.c >= 8", "value": 4}, "value": 2}
     }},
    {"data": {"values": [{"x": 0, "y": 0, "x2": 1, "y2": 1}]}, "mark": {"type": "rule", "strokeDash": [7.4, 3.2], "strokeWidth": 2, "color": "black"},
     "encoding": {"x": {"field": "x", "type": "quantitative"}, "y": {"field": "y", "type": "quantitative"}, "x2": {"field": "x2"}, "y2": {"field": "y2"}}}
   ]}
 ],
 "columns": 2, "spacing": {"row": 112, "column": 120}, "bounds": "flush",
 "resolve": {"scale": {"color": "independent", "strokeDash": "independent"}, "legend": {"color": "independent", "strokeDash": "independent"}}}
],
"spacing": 20
}
